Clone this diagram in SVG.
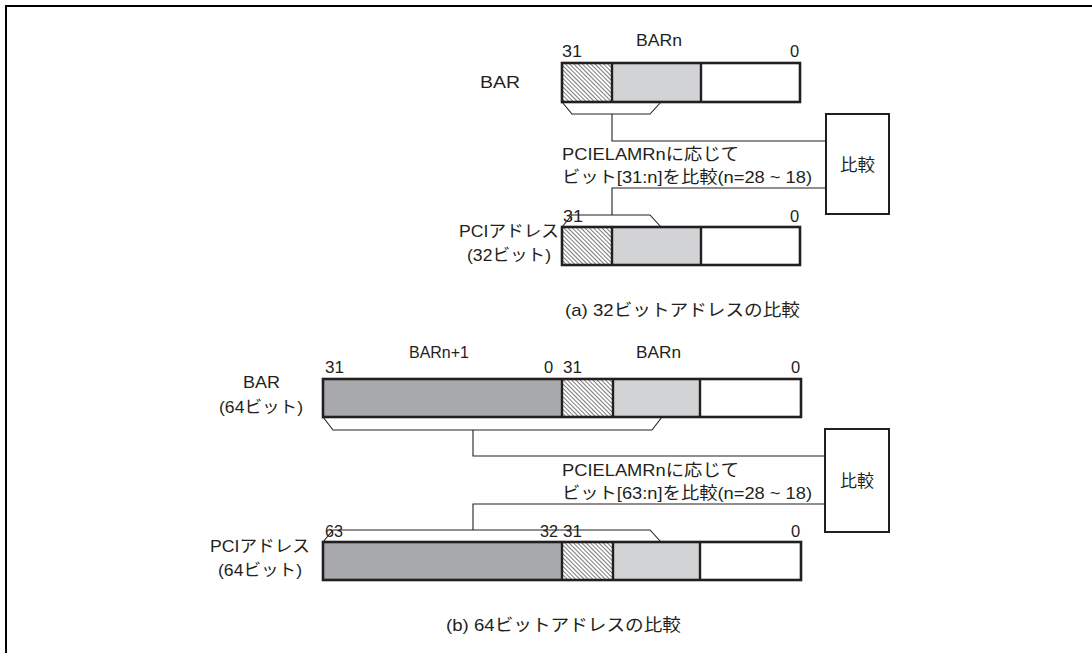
<svg xmlns="http://www.w3.org/2000/svg" width="1092" height="653" viewBox="0 0 1092 653">
<style>
text{font-family:"Liberation Sans","Noto Sans CJK JP",Arial,sans-serif;font-size:16.5px;fill:#231f20}
.cap{font-size:17px}
.box{stroke:#231f20;stroke-width:2.6;fill:none}
.div{stroke:#231f20;stroke-width:2.4}
.ln{stroke:#231f20;stroke-width:1.1;fill:none}
.cmp{stroke:#231f20;stroke-width:2;fill:#fff}
.dk{fill:#a7a9ac}
.lt{fill:#d1d3d4}
.wh{fill:#fff}
.ht{fill:url(#hatch)}
</style>
<defs>
<pattern id="hatch" patternUnits="userSpaceOnUse" width="3" height="3" patternTransform="rotate(-45)">
<rect width="3" height="3" fill="#fff"/>
<line x1="0.5" y1="0" x2="0.5" y2="3" stroke="#333" stroke-width="0.65"/>
</pattern>
</defs>
<rect width="1092" height="653" fill="#fff"/>
<g id="frame">
<polyline points="6,653 6,6 1092,6" fill="none" stroke="#000" stroke-width="2"/>
</g>

<g id="bar32">
<rect x="562" y="63" width="50" height="39" class="ht"/>
<rect x="612" y="63" width="89" height="39" class="lt"/>
<rect x="701" y="63" width="99" height="39" class="wh"/>
<line x1="612" y1="63" x2="612" y2="102" class="div"/>
<line x1="701" y1="63" x2="701" y2="102" class="div"/>
<rect x="562" y="63" width="238" height="39" class="box"/>
<text x="636" y="46" textLength="46" lengthAdjust="spacingAndGlyphs">BARn</text>
<text x="562" y="57" textLength="20" lengthAdjust="spacingAndGlyphs">31</text>
<text x="790" y="57">0</text>
<text x="480" y="88" textLength="40" lengthAdjust="spacingAndGlyphs">BAR</text>
</g>

<g id="pci32">
<rect x="562" y="227" width="50" height="38" class="ht"/>
<rect x="612" y="227" width="89" height="38" class="lt"/>
<rect x="701" y="227" width="99" height="38" class="wh"/>
<line x1="612" y1="227" x2="612" y2="265" class="div"/>
<line x1="701" y1="227" x2="701" y2="265" class="div"/>
<rect x="562" y="227" width="238" height="38" class="box"/>
<text x="563" y="221.5" textLength="20" lengthAdjust="spacingAndGlyphs">31</text>
<text x="790" y="221.5">0</text>
<text x="459" y="237" textLength="100" lengthAdjust="spacingAndGlyphs">PCIアドレス</text>
<text x="467" y="261" textLength="84" lengthAdjust="spacingAndGlyphs">(32ビット)</text>
</g>

<g id="cmp32">
<rect x="826" y="114" width="63" height="100" class="cmp"/>
<text x="840" y="171" textLength="35" lengthAdjust="spacingAndGlyphs">比較</text>
</g>

<g id="bar64">
<rect x="323" y="379" width="239" height="38" class="dk"/>
<rect x="562" y="379" width="51" height="38" class="ht"/>
<rect x="613" y="379" width="87" height="38" class="lt"/>
<rect x="700" y="379" width="101" height="38" class="wh"/>
<line x1="562" y1="379" x2="562" y2="417" class="div"/>
<line x1="613" y1="379" x2="613" y2="417" class="div"/>
<line x1="700" y1="379" x2="700" y2="417" class="div"/>
<rect x="323" y="379" width="478" height="38" class="box"/>
<text x="409" y="358" textLength="60" lengthAdjust="spacingAndGlyphs">BARn+1</text>
<text x="636" y="358" textLength="45" lengthAdjust="spacingAndGlyphs">BARn</text>
<text x="325" y="373" textLength="19" lengthAdjust="spacingAndGlyphs">31</text>
<text x="544" y="373">0</text>
<text x="563" y="373" textLength="19" lengthAdjust="spacingAndGlyphs">31</text>
<text x="791" y="373">0</text>
<text x="243" y="388" textLength="37" lengthAdjust="spacingAndGlyphs">BAR</text>
<text x="219" y="413" textLength="84" lengthAdjust="spacingAndGlyphs">(64ビット)</text>
</g>

<g id="pci64">
<rect x="323" y="542" width="239" height="38" class="dk"/>
<rect x="562" y="542" width="51" height="38" class="ht"/>
<rect x="613" y="542" width="87" height="38" class="lt"/>
<rect x="700" y="542" width="101" height="38" class="wh"/>
<line x1="562" y1="542" x2="562" y2="580" class="div"/>
<line x1="613" y1="542" x2="613" y2="580" class="div"/>
<line x1="700" y1="542" x2="700" y2="580" class="div"/>
<rect x="323" y="542" width="478" height="38" class="box"/>
<text x="325" y="537" textLength="18" lengthAdjust="spacingAndGlyphs">63</text>
<text x="540" y="537" textLength="18" lengthAdjust="spacingAndGlyphs">32</text>
<text x="563" y="537" textLength="19" lengthAdjust="spacingAndGlyphs">31</text>
<text x="791" y="537">0</text>
<text x="210" y="552" textLength="100" lengthAdjust="spacingAndGlyphs">PCIアドレス</text>
<text x="218" y="576" textLength="84" lengthAdjust="spacingAndGlyphs">(64ビット)</text>
</g>

<g id="cmp64">
<rect x="825" y="429" width="64" height="103" class="cmp"/>
<text x="840" y="487" textLength="34" lengthAdjust="spacingAndGlyphs">比較</text>
</g>

<g id="connectors">
<polyline points="562,102 572,114 650,114 661,102" class="ln"/>
<polyline points="612,114 612,141 826,141" class="ln"/>
<polyline points="826,188 612,188 612,215" class="ln"/>
<polyline points="562,227 572,215 650,215 661,227" class="ln"/>
<polyline points="323,417 333,430 652,430 662,417" class="ln"/>
<polyline points="473,430 473,456 825,456" class="ln"/>
<polyline points="825,504 473,504 473,530" class="ln"/>
<polyline points="323,542 333,530 650,530 661,542" class="ln"/>
</g>

<g id="labels">
<text x="562" y="160" textLength="177" lengthAdjust="spacingAndGlyphs">PCIELAMRnに応じて</text>
<text x="562" y="183" textLength="250" lengthAdjust="spacingAndGlyphs">ビット[31:n]を比較(n=28 ~ 18)</text>
<text x="562" y="476" textLength="177" lengthAdjust="spacingAndGlyphs">PCIELAMRnに応じて</text>
<text x="562" y="499" textLength="250" lengthAdjust="spacingAndGlyphs">ビット[63:n]を比較(n=28 ~ 18)</text>
<text x="565" y="316" class="cap" textLength="235" lengthAdjust="spacingAndGlyphs">(a) 32ビットアドレスの比較</text>
<text x="446" y="631" class="cap" textLength="235" lengthAdjust="spacingAndGlyphs">(b) 64ビットアドレスの比較</text>
</g>
</svg>
